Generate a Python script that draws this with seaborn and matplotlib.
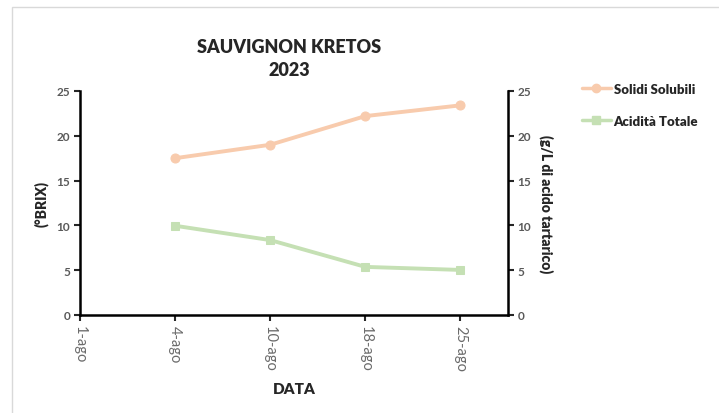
import numpy as np
import pandas as pd
import matplotlib
matplotlib.use('Agg')
import matplotlib.pyplot as plt
import seaborn as sns
from matplotlib.patches import Rectangle
from matplotlib.lines import Line2D

# data
date_labels = ['1-ago', '4-ago', '10-ago', '18-ago', '25-ago']
sample_dates = ['4-ago', '10-ago', '18-ago', '25-ago']
solidi = [17.5, 19.0, 22.2, 23.4]     # (°BRIX)
acidita = [9.96, 8.36, 5.37, 5.03]    # g/L acido tartarico

sns.set_style('white')
plt.rcParams['font.family'] = ['Lato', 'DejaVu Sans']

df = pd.DataFrame({
    'pos': [date_labels.index(d) for d in sample_dates],
    'solidi': solidi,
    'acidita': acidita,
})

orange = '#F8CBAD'
green = '#C5E0B4'
grey = '#595959'

fig = plt.figure(figsize=(7.19, 4.14), dpi=100)
ax = fig.add_axes([80 / 719, 1 - 316 / 414, (508 - 80) / 719, (316 - 92) / 414])

sns.lineplot(data=df, x='pos', y='solidi', ax=ax, color=orange, marker='o',
             markersize=6.5, markeredgecolor=orange, linewidth=2.8, legend=False)
ax2 = ax.twinx()
sns.lineplot(data=df, x='pos', y='acidita', ax=ax2, color=green, marker='s',
             markersize=6, markeredgecolor=green, linewidth=2.8, legend=False)

for a in (ax, ax2):
    a.set_ylim(0, 25)
    a.set_yticks([0, 5, 10, 15, 20, 25])
    a.tick_params(axis='y', direction='out', length=4, width=1.5,
                  labelcolor=grey, labelsize=8.5, pad=3)
    for lab in a.get_yticklabels():
        lab.set_fontweight('bold')
    for s in a.spines.values():
        s.set_visible(False)

ax.set_xlim(0, 4.5)
ax.set_xticks(range(len(date_labels)))
ax.set_xticklabels(date_labels, rotation=270, color='#6b6b6b', fontsize=10.5)
ax.tick_params(axis='x', direction='out', length=4, width=1.5, pad=3)

ax.spines['left'].set_visible(True)
ax.spines['bottom'].set_visible(True)
ax2.spines['right'].set_visible(True)
for s in (ax.spines['left'], ax.spines['bottom'], ax2.spines['right']):
    s.set_color('black')
    s.set_linewidth(1.8)
ax.yaxis.set_ticks_position('left')
ax.xaxis.set_ticks_position('bottom')
ax2.yaxis.set_ticks_position('right')

ax.set_xlabel('DATA', fontsize=11, fontweight='heavy', labelpad=8)
ax.set_ylabel('(°BRIX)', fontsize=10, fontweight='heavy', labelpad=6)
ax2.set_ylabel('(g/L di acido tartarico)', fontsize=10, fontweight='heavy',
               rotation=270, labelpad=16)

fig.text(289 / 719, 1 - 59 / 414, 'SAUVIGNON KRETOS\n2023', ha='center', va='center',
         fontsize=13, fontweight='heavy', linespacing=1.4)

handles = [
    Line2D([], [], color=orange, marker='o', markersize=6, linewidth=2.5, markeredgecolor=orange),
    Line2D([], [], color=green, marker='s', markersize=5.5, linewidth=2.5, markeredgecolor=green),
]
fig.legend(handles, ['Solidi Solubili', 'Acidità Totale'], loc='upper left',
           bbox_to_anchor=(570 / 719, 1 - 72 / 414), frameon=False,
           prop={'weight': 'heavy', 'size': 9.5}, handlelength=2.2,
           handletextpad=0.2, labelspacing=1.5)

# light chart border
fig.patches.append(Rectangle((12 / 719, -0.1), 1.0, 1.1 - 8 / 414, transform=fig.transFigure,
                             fill=False, edgecolor='#D9D9D9', linewidth=1))

fig.savefig('out.png', dpi=100)
